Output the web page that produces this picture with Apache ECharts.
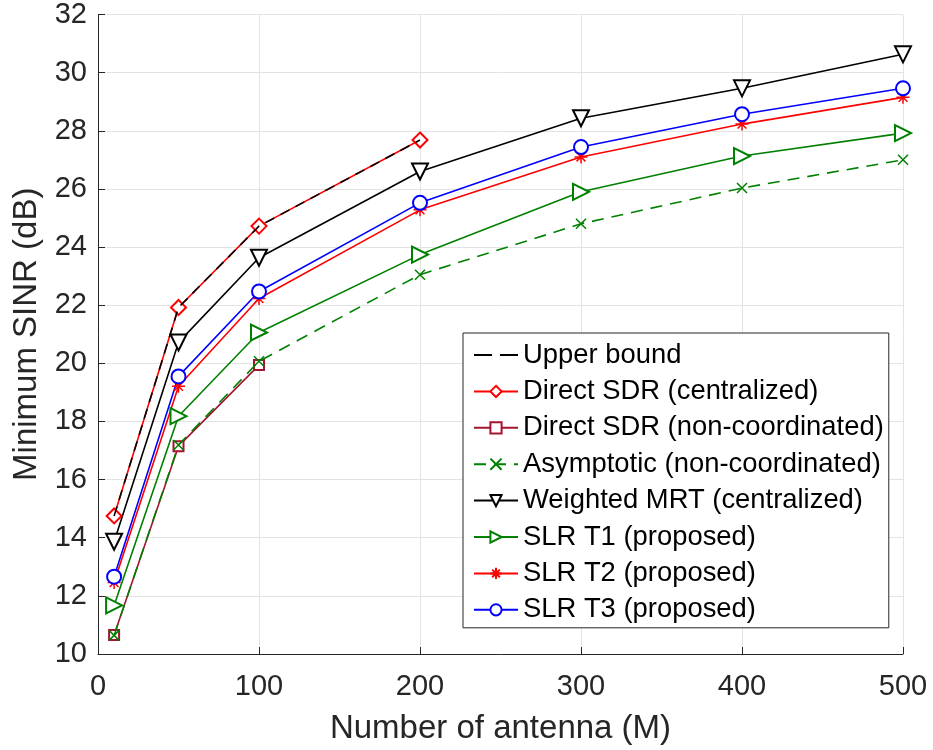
<!DOCTYPE html>
<html><head><meta charset="utf-8">
<script src="https://cdn.jsdelivr.net/npm/echarts@6/dist/echarts.min.js"></script>
<style>html,body{margin:0;padding:0;background:#fff}#c{width:933px;height:750px}</style>
</head><body><div id="c"></div>
<script>
const antennas = [10, 50, 100, 200, 300, 400, 500];
const upperBound = [14.75, 21.92, 24.72, 27.68];
const directSdrCentral = [14.75, 21.92, 24.72, 27.68];
const directSdrNonCoord = [10.65, 17.15, 19.94];
const asymptoticNonCoord = [10.64, 17.19, 20.07, 23.05, 24.8, 26.03, 27.0];
const weightedMrt = [13.86, 20.72, 23.63, 26.6, 28.43, 29.46, 30.63];
const slrT1 = [11.67, 18.18, 21.06, 23.74, 25.9, 27.13, 27.92];
const slrT2 = [12.46, 19.21, 22.23, 25.28, 27.1, 28.23, 29.15];
const slrT3 = [12.66, 19.55, 22.47, 25.52, 27.44, 28.57, 29.46];
const xTicks = [0, 100, 200, 300, 400, 500];
const yTicks = [10, 12, 14, 16, 18, 20, 22, 24, 26, 28, 30, 32];

const pts = (vals) => vals.map((v, i) => [antennas[i], v]);
const FONT = "'Liberation Sans', Arial, Helvetica, sans-serif";
const X_PATH = 'path://M0,0L10,10M10,0L0,10';
const STAR_PATH = 'path://M5,0L5,10M0,5L10,5M1.6,1.6L8.4,8.4M8.4,1.6L1.6,8.4';
const DASH_ICON = 'path://M0,0L16,0L16,1.6L0,1.6Z M23,0L39,0L39,1.6L23,1.6Z';

function mk(name, vals, color, symbol, size, opts) {
  opts = opts || {};
  return {
    name: name, type: 'line', data: pts(vals),
    symbol: symbol, symbolSize: size, showSymbol: symbol !== 'none',
    symbolRotate: opts.rot || 0,
    lineStyle: { color: color, width: 1.6, type: opts.dash || 'solid' },
    itemStyle: { color: color, borderColor: color, borderWidth: opts.bw === undefined ? 1.5 : opts.bw },
    animation: false, z: opts.z || 2, silent: true
  };
}

const chart = echarts.init(document.getElementById('c'), null, { renderer: 'canvas' });
chart.setOption({
  backgroundColor: '#fff',
  animation: false,
  grid: { left: 98, right: 30, top: 12, bottom: 96, containLabel: false },
  xAxis: {
    type: 'value', min: 0, max: 500, interval: 100,
    name: 'Number of antenna (M)', nameLocation: 'middle', nameGap: 58,
    nameTextStyle: { fontSize: 33, color: '#262626', fontFamily: FONT },
    axisLine: { show: true, onZero: false, lineStyle: { color: '#262626', width: 1 } },
    axisTick: { show: true, inside: true, length: 7, lineStyle: { color: '#262626' } },
    axisLabel: { fontSize: 29, color: '#262626', fontFamily: FONT, margin: 18,
      formatter: (v) => xTicks.includes(v) ? String(v) : '' },
    splitLine: { show: true, lineStyle: { color: '#e3e3e3', width: 1 } }
  },
  yAxis: {
    type: 'value', min: 10, max: 32, interval: 2,
    name: 'Minimum SINR (dB)', nameLocation: 'middle', nameGap: 51, nameRotate: 90,
    nameTextStyle: { fontSize: 33, color: '#262626', fontFamily: FONT },
    axisLine: { show: true, onZero: false, lineStyle: { color: '#262626', width: 1 } },
    axisTick: { show: true, inside: true, length: 7, lineStyle: { color: '#262626' } },
    axisLabel: { fontSize: 29, color: '#262626', fontFamily: FONT, margin: 11,
      formatter: (v) => yTicks.includes(v) ? String(v) : '' },
    splitLine: { show: true, lineStyle: { color: '#e3e3e3', width: 1 } }
  },
  legend: {
    orient: 'vertical', left: 463, top: 333,
    padding: [8, 5, 4, 10],
    itemWidth: 44, itemHeight: 14, itemGap: 8.4,
    backgroundColor: '#fff',
    borderColor: '#262626', borderWidth: 1,
    textStyle: { fontSize: 27.4, color: '#000', fontFamily: FONT, lineHeight: 28 },
    data: [
      { name: 'Upper bound', icon: DASH_ICON },
      'Direct SDR (centralized)', 'Direct SDR (non-coordinated)',
      'Asymptotic (non-coordinated)', 'Weighted MRT (centralized)',
      'SLR T1 (proposed)', 'SLR T2 (proposed)', 'SLR T3 (proposed)'
    ]
  },
  series: [
    mk('Upper bound', upperBound, '#000000', 'none', 0, { dash: [10, 7], z: 5, bw: 0 }),
    mk('Direct SDR (centralized)', directSdrCentral, '#ff0000', 'emptyDiamond', 15, { z: 4 }),
    mk('Direct SDR (non-coordinated)', directSdrNonCoord, '#a2142f', 'emptyRect', 10, { z: 3 }),
    mk('Asymptotic (non-coordinated)', asymptoticNonCoord, '#008000', X_PATH, 10, { dash: [12, 8], z: 4 }),
    mk('Weighted MRT (centralized)', weightedMrt, '#000000', 'emptyTriangle', 16, { rot: 180 }),
    mk('SLR T1 (proposed)', slrT1, '#008000', 'emptyTriangle', 16, { rot: -90 }),
    mk('SLR T2 (proposed)', slrT2, '#ff0000', STAR_PATH, 13),
    mk('SLR T3 (proposed)', slrT3, '#0000ff', 'emptyCircle', 14)
  ]
});
</script>
</body></html>
